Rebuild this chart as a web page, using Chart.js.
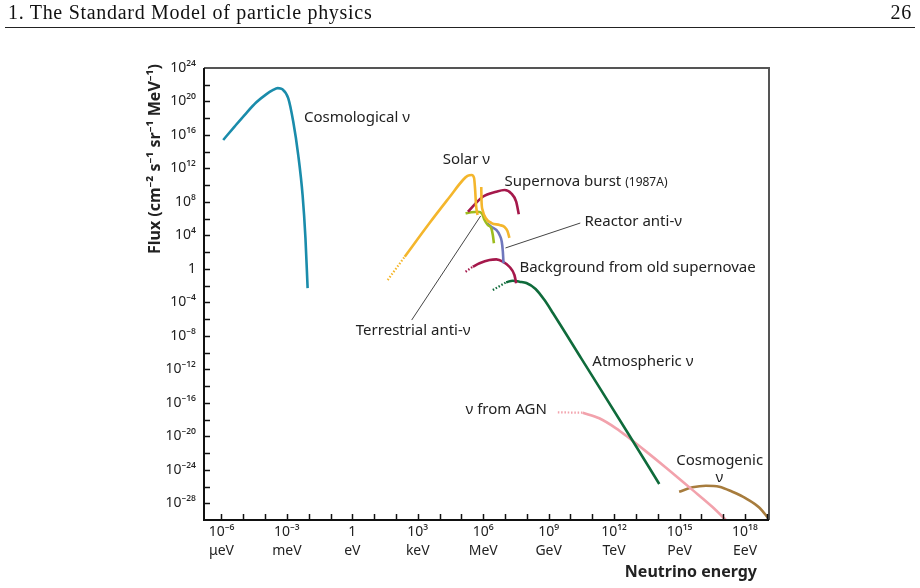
<!DOCTYPE html>
<html>
<head>
<meta charset="utf-8">
<script src="https://cdn.jsdelivr.net/npm/chart.js@4.4.1/dist/chart.umd.min.js"></script>
<style>
  html,body{margin:0;padding:0;background:#fff;}
  #wrap{position:relative;width:920px;height:588px;overflow:hidden;}
  #head{position:absolute;left:8px;right:8px;top:1px;font-family:"Liberation Serif",serif;font-size:20px;letter-spacing:0.7px;color:#111;display:flex;justify-content:space-between;}
  #rule{position:absolute;left:5px;right:5px;top:27px;border-top:1.5px solid #222;}
  canvas{position:absolute;left:0;top:0;}
</style>
</head>
<body>
<div id="wrap">
  <canvas id="chart" width="920" height="588"></canvas>
  <div id="head"><span>1. The Standard Model of particle physics</span><span>26</span></div>
  <div id="rule"></div>
</div>
<script>
// all values are log10: energy in eV, flux in cm^-2 s^-1 sr^-1 MeV^-1
const xMin = -6.8, xMax = 19.1;
const yMin = -30, yMax = 24;
const xLabelExp = [-6, -3, 0, 3, 6, 9, 12, 15, 18];
const xUnits = ['μeV', 'meV', 'eV', 'keV', 'MeV', 'GeV', 'TeV', 'PeV', 'EeV'];

const cosmoE = [-5.92, -5.4, -4.9, -4.4, -3.95, -3.65, -3.42, -3.2, -2.94, -2.71, -2.48, -2.28, -2.15, -2.05];
const cosmoF = [15.4, 17.0, 18.5, 19.9, 20.85, 21.35, 21.6, 21.45, 20.4, 17.6, 13.6, 8.8, 3.7, -2.3];

const solarDotE = [1.62, 2.40];
const solarDotF = [-1.33, 1.45];
const solarE = [2.40, 3.54, 4.46, 5.07, 5.28, 5.47, 5.58, 5.63, 5.67, 5.74];
const solarF = [1.45, 5.48, 8.59, 10.62, 11.1, 11.22, 10.86, 9.42, 7.63, 6.44];
const boronE = [5.91, 5.92, 5.97, 6.11, 6.38, 6.75, 6.98, 7.11, 7.2];
const boronF = [9.78, 8.23, 7.03, 6.08, 5.48, 5.24, 5.0, 4.53, 3.7];

const burstE = [5.30, 5.98, 6.60, 6.98, 7.28, 7.51, 7.63];
const burstF = [6.83, 8.62, 9.22, 9.42, 9.03, 8.03, 6.52];

const terrE = [5.19, 5.45, 5.75, 5.94, 6.06, 6.21, 6.37, 6.44, 6.49];
const terrF = [6.64, 6.76, 6.83, 6.64, 5.84, 5.24, 4.85, 4.05, 3.06];

const reactE = [6.17, 6.37, 6.60, 6.75, 6.85, 6.90, 6.93];
const reactF = [5.45, 5.04, 4.65, 4.05, 3.25, 2.05, 0.67];

const relicDotE = [5.19, 5.52];
const relicDotF = [-0.34, 0.26];
const relicE = [5.52, 5.83, 6.29, 6.60, 6.90, 7.20, 7.43, 7.51];
const relicF = [0.26, 0.67, 1.06, 1.14, 0.86, 0.26, -0.73, -1.72];

const atmoDotE = [6.44, 7.05];
const atmoDotF = [-2.52, -1.6];
const atmoE = [7.05, 7.36, 7.66, 7.98, 8.4, 8.8, 9.2, 10.5, 12.7, 14.07];
const atmoF = [-1.6, -1.41, -1.53, -1.69, -2.4, -3.7, -5.3, -10.72, -19.9, -25.7];

const agnDotE = [9.42, 10.56];
const agnDotF = [-17.14, -17.18];
const agnE = [10.56, 11.32, 12.09, 12.70, 13.46, 14.38, 15.59, 16.51, 17.2];
const agnF = [-17.18, -17.85, -19.05, -20.24, -21.8, -23.75, -26.4, -28.45, -30.2];

const cosmogE = [14.98, 15.59, 16.21, 16.82, 17.42, 18.04, 18.65, 19.1];
const cosmogF = [-26.62, -26.1, -25.9, -26.02, -26.62, -27.41, -28.5, -29.9];

// label anchors (log10 energy, log10 flux)
const notes = [
  {t: 'Cosmological ν', e: -2.22, f: 18.0},
  {t: 'Solar ν', e: 4.14, f: 13.0},
  {t: 'Supernova burst', e: 6.98, f: 10.38, small: '(1987A)'},
  {t: 'Reactor anti-ν', e: 10.64, f: 5.6},
  {t: 'Background from old supernovae', e: 7.66, f: 0.1},
  {t: 'Terrestrial anti-ν', e: 0.16, f: -7.42},
  {t: 'Atmospheric ν', e: 11.0, f: -11.13},
  {t: 'ν from AGN', e: 5.19, f: -16.86},
  {t: 'Cosmogenic', e: 14.85, f: -22.95},
  {t: 'ν', e: 16.82, f: -24.98, center: true}
];
const leaders = [
  [[10.45, 5.48], [7.02, 2.5]],
  [[2.72, -6.11], [5.88, 6.32]]
];

const SUP = {'-':'⁻','0':'⁰','1':'¹','2':'²','3':'³','4':'⁴','5':'⁵','6':'⁶','7':'⁷','8':'⁸','9':'⁹'};
function sup(n){ return String(n).split('').map(c => SUP[c]).join(''); }
function pow10(e){ return e === 0 ? '1' : '10' + sup(e); }

function pts(e, f){ return e.map((v, i) => ({x: Math.pow(10, v), y: Math.pow(10, f[i])})); }
function curve(label, e, f, color, dotted){
  return {
    label: label, data: pts(e, f), borderColor: color, borderWidth: dotted ? 2.2 : 2.6,
    borderDash: dotted ? [1.5, 1.8] : [], pointRadius: 0,
    cubicInterpolationMode: 'monotone', fill: false
  };
}

const xTicks = [];
for (let k = -6; k <= 19; k++) xTicks.push(k);
const yTicks = [];
for (let k = -30; k <= 24; k += 2) yTicks.push(k);

const crimson = '#a5184b';
const datasets = [
  curve('Cosmological ν', cosmoE, cosmoF, '#1a8cab'),
  curve('Solar ν (dotted)', solarDotE, solarDotF, '#f4b62c', true),
  curve('Solar ν', solarE, solarF, '#f4b62c'),
  curve('Solar ν 8B', boronE, boronF, '#f4b62c'),
  curve('Supernova burst', burstE, burstF, crimson),
  curve('Terrestrial anti-ν', terrE, terrF, '#9dbc1e'),
  curve('Reactor anti-ν', reactE, reactF, '#6f77bd'),
  curve('Old supernovae (dotted)', relicDotE, relicDotF, crimson, true),
  curve('Background from old supernovae', relicE, relicF, crimson),
  curve('Atmospheric ν (dotted)', atmoDotE, atmoDotF, '#0f6b3b', true),
  curve('Atmospheric ν', atmoE, atmoF, '#0f6b3b'),
  curve('AGN (dotted)', agnDotE, agnDotF, '#f2a2ac', true),
  curve('ν from AGN', agnE, agnF, '#f2a2ac'),
  curve('Cosmogenic ν', cosmogE, cosmogF, '#a77c3d')
];

const framePlugin = {
  id: 'frame',
  afterDatasetsDraw(chart){
    const {ctx, chartArea: a, scales: {x, y}} = chart;
    ctx.save();
    ctx.strokeStyle = '#555';
    ctx.lineWidth = 2;
    ctx.beginPath();
    ctx.moveTo(a.left, a.top); ctx.lineTo(a.right, a.top); ctx.lineTo(a.right, a.bottom);
    ctx.stroke();
    ctx.strokeStyle = '#111';
    ctx.lineWidth = 2;
    ctx.beginPath();
    ctx.moveTo(a.left, a.top); ctx.lineTo(a.left, a.bottom); ctx.lineTo(a.right, a.bottom);
    ctx.stroke();
    ctx.lineWidth = 1.5;
    xTicks.forEach(k => {
      const px = Math.round(x.getPixelForValue(Math.pow(10, k))) + 0.5;
      ctx.beginPath(); ctx.moveTo(px, a.bottom); ctx.lineTo(px, a.bottom - 6); ctx.stroke();
    });
    yTicks.forEach(k => {
      if (k <= yMin || k >= yMax) return;
      const py = Math.round(y.getPixelForValue(Math.pow(10, k))) + 0.5;
      ctx.beginPath(); ctx.moveTo(a.left, py); ctx.lineTo(a.left + 6, py); ctx.stroke();
    });
    ctx.restore();
  },
  afterDraw(chart){
    const {ctx, chartArea: a, scales: {x, y}} = chart;
    const X = e => x.getPixelForValue(Math.pow(10, e));
    const Y = f => y.getPixelForValue(Math.pow(10, f));
    ctx.save();
    ctx.strokeStyle = '#444';
    ctx.lineWidth = 1;
    leaders.forEach(l => {
      ctx.beginPath(); ctx.moveTo(X(l[0][0]), Y(l[0][1])); ctx.lineTo(X(l[1][0]), Y(l[1][1])); ctx.stroke();
    });
    ctx.fillStyle = '#222';
    ctx.textBaseline = 'middle';
    notes.forEach(n => {
      ctx.font = '15px "Noto Sans"';
      ctx.textAlign = n.center ? 'center' : 'left';
      ctx.fillText(n.t, X(n.e), Y(n.f));
      if (n.small) {
        const w = ctx.measureText(n.t + ' ').width;
        ctx.font = '12px "Noto Sans"';
        ctx.fillText(n.small, X(n.e) + w, Y(n.f) + 1);
      }
    });
    // axis titles
    ctx.font = 'bold 16px "Noto Sans"';
    ctx.textAlign = 'right';
    ctx.fillText('Neutrino energy', a.right - 12, a.bottom + 52);
    ctx.translate(a.left - 49, a.top + 91);
    ctx.rotate(-Math.PI / 2);
    ctx.textAlign = 'center';
    ctx.fillText('Flux (cm⁻² s⁻¹ sr⁻¹ MeV⁻¹)', 0, 0);
    ctx.restore();
  }
};

new Chart(document.getElementById('chart'), {
  type: 'line',
  data: {datasets: datasets},
  plugins: [framePlugin],
  options: {
    responsive: false,
    devicePixelRatio: 1,
    animation: false,
    layout: {padding: {top: 68, right: 151, bottom: 0, left: 0}},
    plugins: {legend: {display: false}, tooltip: {enabled: false}},
    scales: {
      x: {
        type: 'logarithmic',
        min: Math.pow(10, xMin), max: Math.pow(10, xMax),
        afterBuildTicks: s => { s.ticks = xTicks.map(k => ({value: Math.pow(10, k)})); },
        afterFit: s => { s.height = 68; },
        grid: {display: false, drawTicks: false},
        border: {display: false},
        ticks: {
          autoSkip: false, maxRotation: 0, padding: 3, color: '#222',
          font: {family: 'Noto Sans', size: 14, lineHeight: 1.35},
          callback: v => {
            const e = Math.round(Math.log10(v));
            const i = xLabelExp.indexOf(e);
            return i < 0 ? '' : [pow10(e), xUnits[i]];
          }
        }
      },
      y: {
        type: 'logarithmic',
        min: Math.pow(10, yMin), max: Math.pow(10, yMax),
        afterBuildTicks: s => { s.ticks = yTicks.map(k => ({value: Math.pow(10, k)})); },
        afterFit: s => { s.width = 204; },
        grid: {display: false, drawTicks: false},
        border: {display: false},
        ticks: {
          autoSkip: false, padding: 8, color: '#222',
          font: {family: 'Noto Sans', size: 14},
          callback: v => {
            const e = Math.round(Math.log10(v));
            return (e % 4 === 0 && e > yMin) ? pow10(e) : '';
          }
        }
      }
    }
  }
});
</script>
</body>
</html>
